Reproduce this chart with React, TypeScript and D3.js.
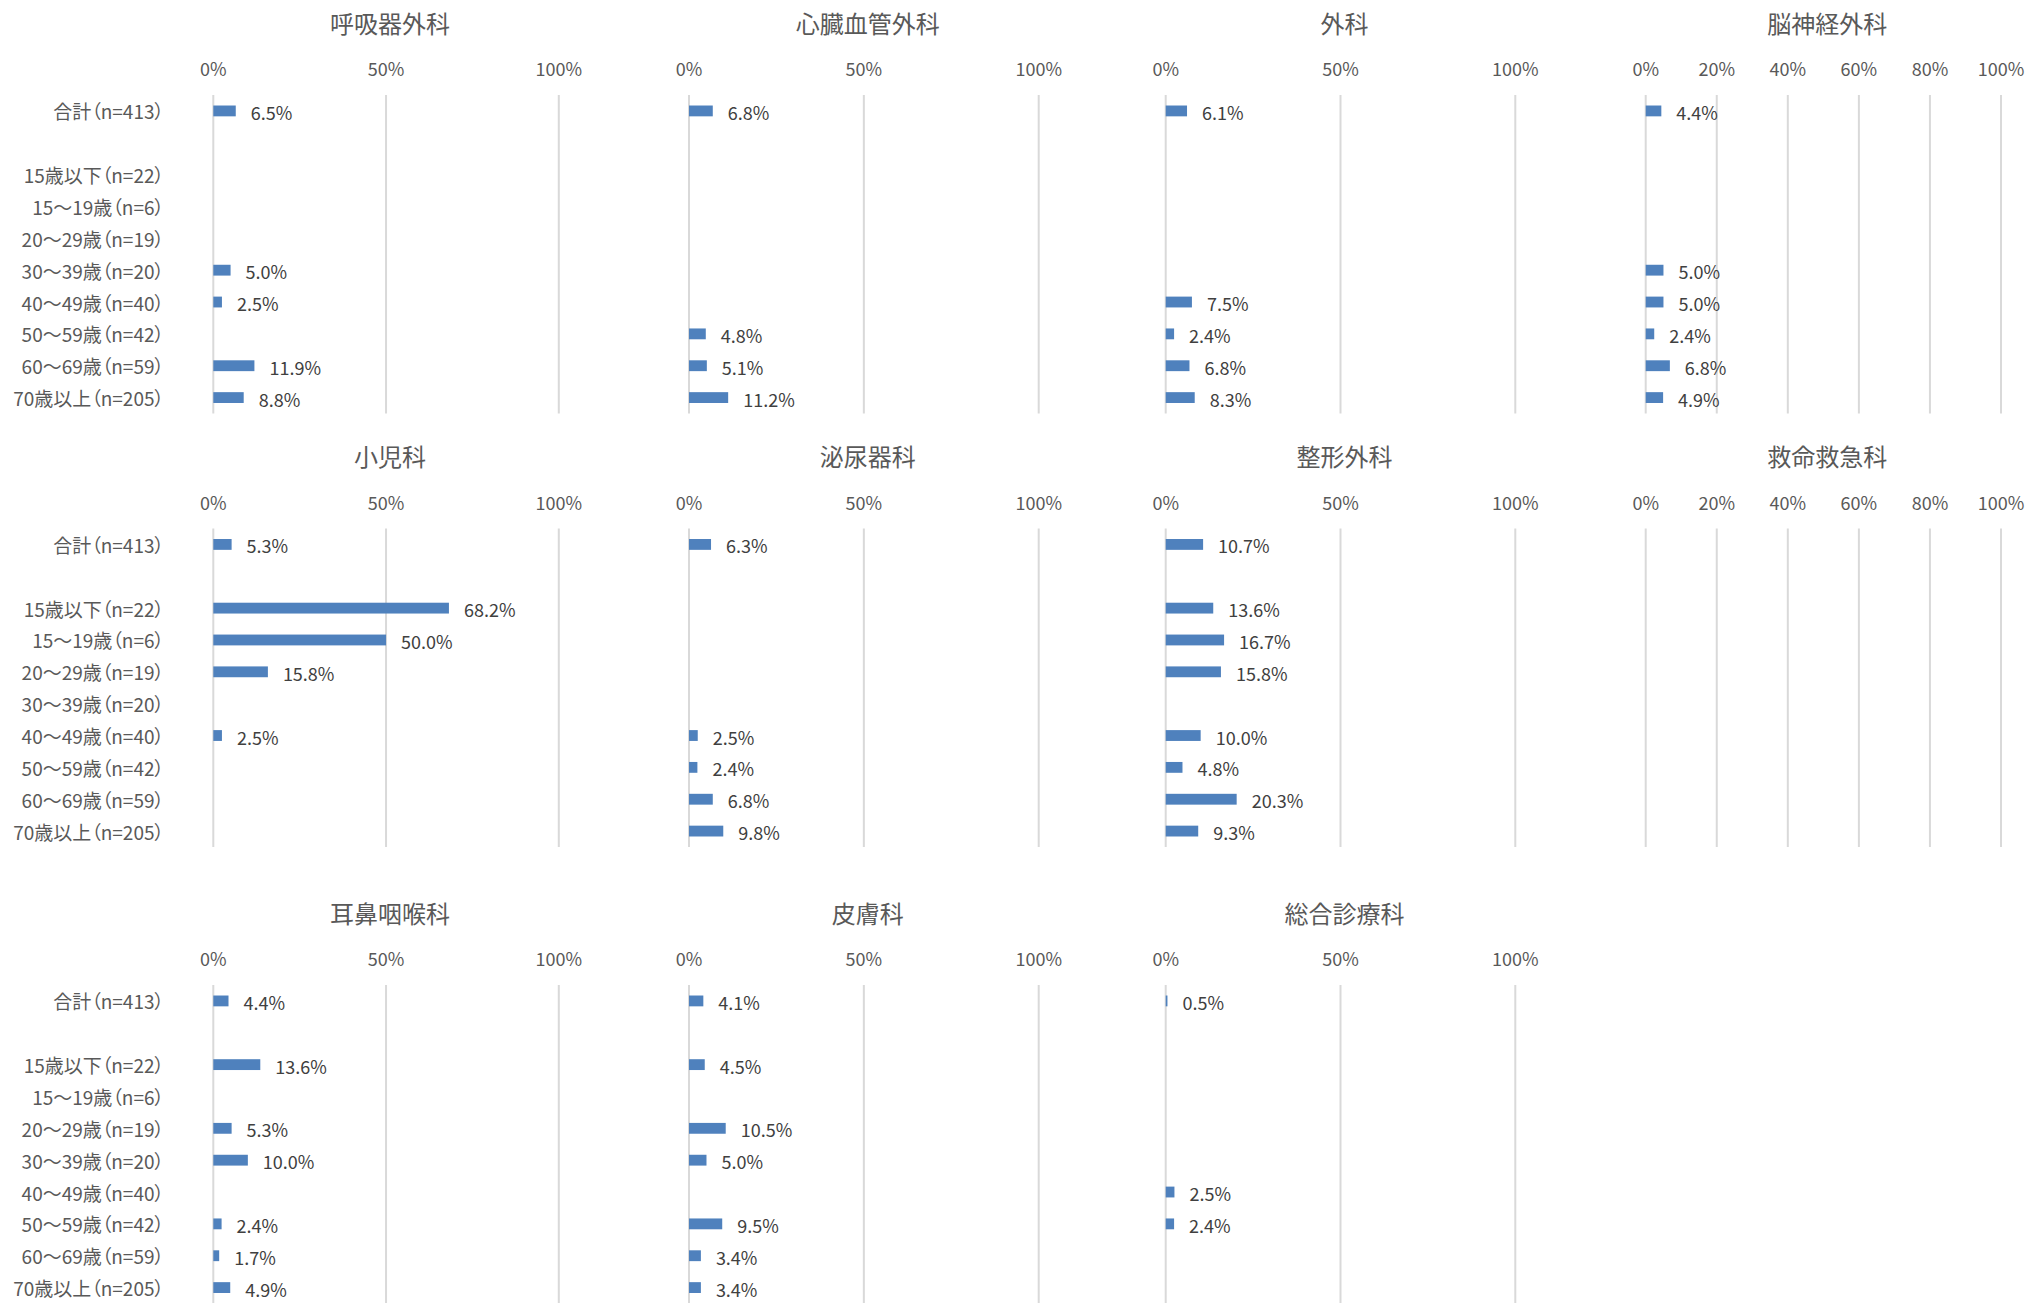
import React from "react";
import * as d3 from "d3";

// ---- data ----
const ageCategories = [
  "合計（n=413）",
  "15歳以下（n=22）",
  "15～19歳（n=6）",
  "20～29歳（n=19）",
  "30～39歳（n=20）",
  "40～49歳（n=40）",
  "50～59歳（n=42）",
  "60～69歳（n=59）",
  "70歳以上（n=205）",
];
const GAP_KEY = "__gap__";

const departments = [
  "呼吸器外科", "心臓血管外科", "外科", "脳神経外科",
  "小児科", "泌尿器科", "整形外科", "救命救急科",
  "耳鼻咽喉科", "皮膚科", "総合診療科",
];

const respiratorySurgery = [6.5, null, null, null, 5.0, 2.5, null, 11.9, 8.8];
const cardiovascularSurgery = [6.8, null, null, null, null, null, 4.8, 5.1, 11.2];
const generalSurgery = [6.1, null, null, null, null, 7.5, 2.4, 6.8, 8.3];
const neurosurgery = [4.4, null, null, null, 5.0, 5.0, 2.4, 6.8, 4.9];
const pediatrics = [5.3, 68.2, 50.0, 15.8, null, 2.5, null, null, null];
const urology = [6.3, null, null, null, null, 2.5, 2.4, 6.8, 9.8];
const orthopedics = [10.7, 13.6, 16.7, 15.8, null, 10.0, 4.8, 20.3, 9.3];
const emergency = [null, null, null, null, null, null, null, null, null];
const otolaryngology = [4.4, 13.6, null, 5.3, 10.0, null, 2.4, 1.7, 4.9];
const dermatology = [4.1, 4.5, null, 10.5, 5.0, null, 9.5, 3.4, 3.4];
const generalMedicine = [0.5, null, null, null, null, 2.5, 2.4, null, null];

const seriesList: (number | null)[][] = [
  respiratorySurgery, cardiovascularSurgery, generalSurgery, neurosurgery,
  pediatrics, urology, orthopedics, emergency,
  otolaryngology, dermatology, generalMedicine,
];

const ticksHalf = [0, 50, 100];
const ticksFifth = [0, 20, 40, 60, 80, 100];
const tickSets = [
  ticksHalf, ticksHalf, ticksHalf, ticksFifth,
  ticksHalf, ticksHalf, ticksHalf, ticksFifth,
  ticksHalf, ticksHalf, ticksHalf,
];

// ---- layout ----
const W = 2027;
const H = 1303;
const colRanges: [number, number][] = [
  [213.3, 558.8],
  [689, 1038.7],
  [1165.7, 1515.3],
  [1645.7, 2001],
];
const rowTops = [0, 433.5, 890];
const TITLE_Y = 22;
const TICK_Y = 68;
const PLOT_TOP = 95;
const PLOT_BOTTOM = 413.5;
const CAT_LABEL_X = 164;

const FONT = "'Noto Sans CJK JP', 'Noto Sans', sans-serif";
const BAR_COLOR = "#4f81bd";
const GRID_COLOR = "#d9d9d9";
const AXIS_TEXT = "#595959";
const LABEL_TEXT = "#404040";
const TEXT_SIZE = 18;

const bandDomain = [ageCategories[0], GAP_KEY, ...ageCategories.slice(1)];

function Panel({ idx }: { idx: number }) {
  const col = idx % 4;
  const row = Math.floor(idx / 4);
  const top = rowTops[row];
  const [x0, x1] = colRanges[col];
  const x = d3.scaleLinear().domain([0, 100]).range([x0, x1]);
  const y = d3
    .scaleBand<string>()
    .domain(bandDomain)
    .range([top + PLOT_TOP, top + PLOT_BOTTOM])
    .paddingInner(0.66)
    .paddingOuter(0.33);
  const values = seriesList[idx];
  const ticks = tickSets[idx];
  const bw = y.bandwidth();
  return (
    <g>
      <text
        x={(x0 + x1) / 2 + 4}
        y={top + TITLE_Y}
        textAnchor="middle"
        dominantBaseline="central"
        fontSize={24}
        fill={AXIS_TEXT}
        fontFamily={FONT}
      >
        {departments[idx]}
      </text>
      {ticks.map((t) => (
        <g key={t}>
          <text
            x={x(t)}
            y={top + TICK_Y}
            textAnchor="middle"
            dominantBaseline="central"
            fontSize={TEXT_SIZE}
            fill={AXIS_TEXT}
            fontFamily={FONT}
          >
            {t}%
          </text>
          <line
            x1={x(t)}
            x2={x(t)}
            y1={top + PLOT_TOP}
            y2={top + PLOT_BOTTOM}
            stroke={GRID_COLOR}
            strokeWidth={2}
          />
        </g>
      ))}
      {col === 0 &&
        ageCategories.map((c) => (
          <text
            key={c}
            x={CAT_LABEL_X}
            y={(y(c) as number) + bw / 2}
            textAnchor="end"
            dominantBaseline="central"
            fontSize={19}
            fill={AXIS_TEXT}
            fontFamily={FONT}
            style={{ fontFeatureSettings: "'palt'" }}
          >
            {c}
          </text>
        ))}
      {values.map((v, i) => {
        if (v === null) return null;
        const c = ageCategories[i];
        const yy = y(c) as number;
        return (
          <g key={c}>
            <rect
              x={x(0)}
              y={yy}
              width={Math.max(0, x(v) - x(0))}
              height={bw}
              fill={BAR_COLOR}
            />
            <text
              x={x(v) + 15}
              y={yy + bw / 2 + 1}
              dominantBaseline="central"
              fontSize={TEXT_SIZE}
              fill={LABEL_TEXT}
              fontFamily={FONT}
            >
              {v.toFixed(1)}%
            </text>
          </g>
        );
      })}
    </g>
  );
}

export default function App() {
  return (
    <svg
      width={W}
      height={H}
      viewBox={`0 0 ${W} ${H}`}
      style={{ position: "absolute", left: 0, top: 0, background: "#ffffff" }}
    >
      <rect x={0} y={0} width={W} height={H} fill="#ffffff" />
      {departments.map((_, i) => (
        <Panel key={i} idx={i} />
      ))}
    </svg>
  );
}
